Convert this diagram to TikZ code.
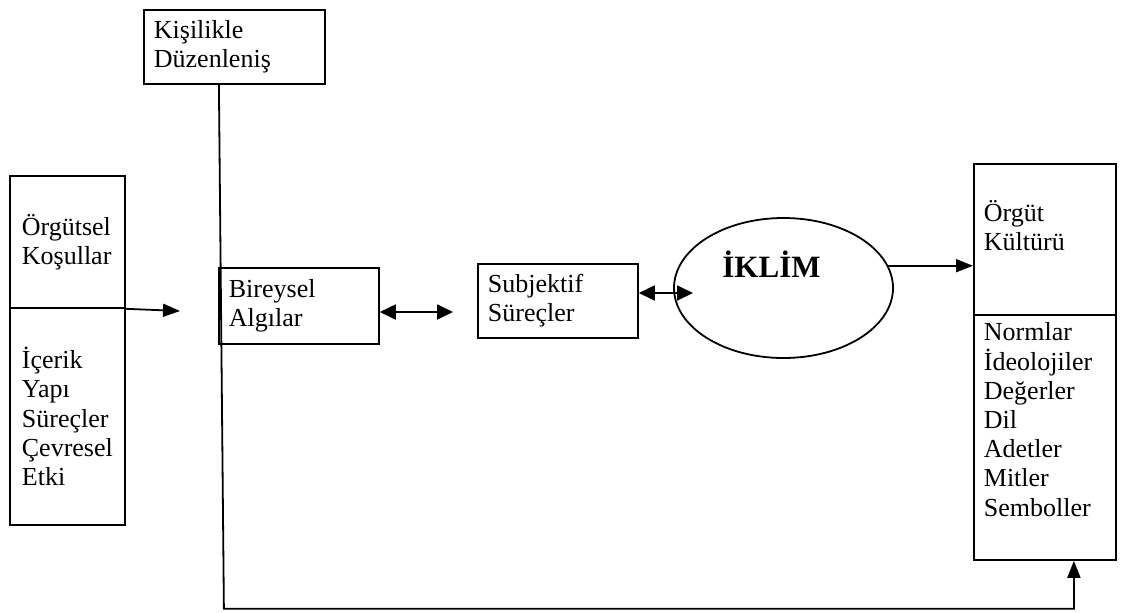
\documentclass[tikz,border=0pt]{standalone}
\usepackage{fontspec}
\setmainfont{Liberation Serif}
\usetikzlibrary{shapes.geometric, arrows.meta}

\begin{document}
\begin{tikzpicture}[
    x=0.5pt, y=-0.5pt,
    box/.style={draw, anchor=north west, align=left, inner xsep=5pt,
                inner ysep=0pt, font=\fontsize{13}{14.6}\selectfont},
    link/.style={-{Triangle[length=8.5pt, width=6.5pt]}},
    twoway/.style={{Triangle[length=8pt, width=7.5pt]}-{Triangle[length=8pt, width=7.5pt]}},
    line width=0.9pt
  ]
  \useasboundingbox (0,0) rectangle (1121,612);

  % Boxes
  \node[box, text width=80.5pt, minimum height=37pt] (kisilik) at (143,9) {Kişilikle\\Düzenleniş};
  \node[box, inner xsep=6pt, text width=45.5pt, minimum height=66pt] (orgKos) at (9,175) {Örgütsel\\Koşullar};
  \node[box, inner xsep=6pt, text width=45.5pt, minimum height=108.5pt] (icerik) at (9,307)
    {İçerik\\Yapı\\Süreçler\\Çevresel\\Etki};
  \node[box, text width=70pt, minimum height=38pt] (bireysel) at (218,267) {Bireysel\\Algılar};
  \node[box, text width=70pt, minimum height=37pt] (subj) at (477,263) {Subjektif\\Süreçler};
  % right column, text sits high in its boxes
  \node[box, text width=61pt, minimum height=75.5pt] (orgut) at (973,163)
    {Örgüt\\Kültürü\rule[-14pt]{0pt}{14pt}};
  \node[box, text width=61pt, minimum height=122.5pt] (normlar) at (973,314)
    {Normlar\\İdeolojiler\\Değerler\\Dil\\Adetler\\Mitler\\Semboller\rule[-18pt]{0pt}{18pt}};

  % Climate
  \node[draw, ellipse, minimum width=109.5pt, minimum height=70pt, inner sep=0pt] (klim) at (783.5,288) {};
  \node[anchor=base, inner sep=0pt, font=\fontsize{15.5}{18}\selectfont\bfseries] (klimT) at (771.5,277) {İKLİM};

  % Arrows
  \coordinate (inA) at (180,311);
  \coordinate (tw1) at (453,312);
  \coordinate (tw2) at (693,293);
  \draw[link] (orgKos.south east) -- (inA);
  \draw[twoway] (bireysel.east |- tw1) -- (tw1);
  \draw[twoway] (subj.east |- tw2) -- (tw2);
  \draw[link] (klim.12) -- (klim.12 -| orgut.west);
  \draw[link] ([xshift=-7.75pt]kisilik.south) -- ++(5,524) -| ([xshift=14.5pt]normlar.south);
\end{tikzpicture}
\end{document}
